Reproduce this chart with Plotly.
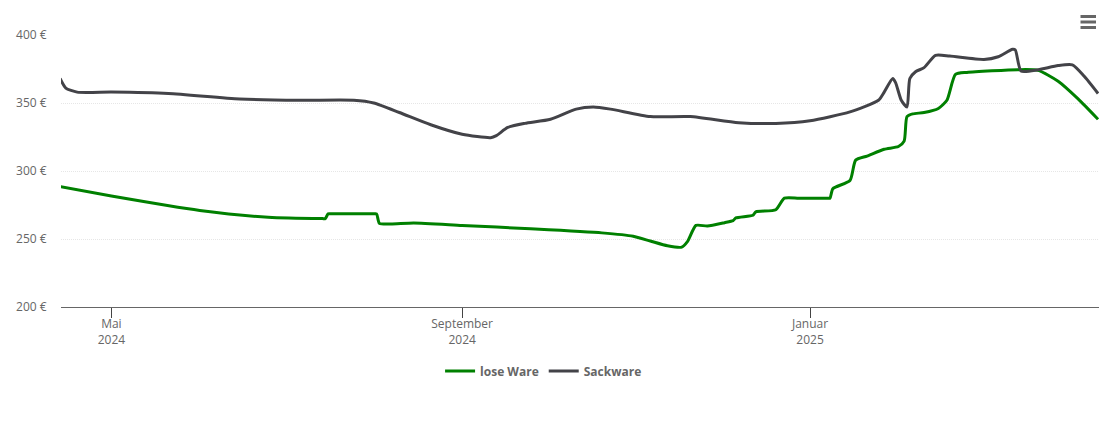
import plotly.graph_objects as go

# values
lose_dates = ["2024-04-13", "2024-05-01", "2024-06-01", "2024-06-25", "2024-07-14", "2024-07-15", "2024-07-16",
              "2024-07-17", "2024-07-24", "2024-08-01", "2024-08-02", "2024-08-03", "2024-08-07", "2024-08-15",
              "2024-09-01", "2024-09-25", "2024-10-20", "2024-10-31", "2024-11-06", "2024-11-12", "2024-11-17",
              "2024-11-19", "2024-11-22", "2024-11-26", "2024-12-02", "2024-12-05", "2024-12-06", "2024-12-12",
              "2024-12-13", "2024-12-20", "2024-12-23", "2024-12-28", "2025-01-03", "2025-01-07", "2025-01-08",
              "2025-01-09", "2025-01-15", "2025-01-17", "2025-01-21", "2025-01-27", "2025-02-01", "2025-02-03",
              "2025-02-04", "2025-02-06", "2025-02-10", "2025-02-15", "2025-02-18", "2025-02-21", "2025-02-25",
              "2025-03-15", "2025-03-22", "2025-03-29", "2025-04-05", "2025-04-12"]
lose_values = [288.5, 281.6, 271, 266, 265, 265, 268.5,
               268.5, 268.5, 268.5, 268.5, 261.5, 261, 261.8,
               260, 257.5, 254.5, 252, 248.5, 245, 244,
               248, 260, 259.5, 262, 263.5, 265.5, 267.5,
               270, 271.5, 280, 280, 280, 280, 280,
               287, 293, 308, 311, 316, 318, 322,
               340, 342, 343, 346, 352, 371, 372.5,
               374.5, 374, 366, 353, 338]

sack_dates = ["2024-04-13", "2024-04-15", "2024-04-19", "2024-05-01", "2024-05-21", "2024-06-15",
              "2024-07-06", "2024-07-25", "2024-08-01", "2024-08-10", "2024-08-21", "2024-09-01",
              "2024-09-11", "2024-09-13", "2024-09-17", "2024-09-23", "2024-10-02", "2024-10-11",
              "2024-10-17", "2024-10-23", "2024-11-06", "2024-11-20", "2024-12-07", "2024-12-20",
              "2025-01-01", "2025-01-15", "2025-01-25", "2025-01-27", "2025-01-30", "2025-01-31",
              "2025-02-02", "2025-02-04", "2025-02-05", "2025-02-07", "2025-02-10", "2025-02-14",
              "2025-02-19", "2025-03-03", "2025-03-08", "2025-03-13", "2025-03-14", "2025-03-16",
              "2025-03-22", "2025-03-29", "2025-04-03", "2025-04-07", "2025-04-12"]
sack_values = [368, 361, 358, 358, 357, 353,
               352, 352, 350, 343, 334, 327,
               324.5, 326, 332, 335, 338, 345.5,
               347, 345.5, 340, 340, 335.5, 335,
               337, 343.5, 352, 358, 368, 365,
               352, 347, 368, 373, 376, 385,
               384.5, 382, 384, 389.5, 389, 373.5,
               374.5, 377.5, 378, 370, 357]

x_ticks = ["2024-05-01", "2024-09-01", "2025-01-01"]
x_labels = ["Mai<br>2024", "September<br>2024", "Januar<br>2025"]
y_ticks = [200, 250, 300, 350, 400]
y_labels = ["200 €", "250 €", "300 €", "350 €", "400 €"]

GREEN = "#008000"
DARK = "#434348"
GRAY = "#666666"

fig = go.Figure()
fig.add_trace(go.Scatter(x=lose_dates, y=lose_values, name="lose Ware", mode="lines",
                         line=dict(color=GREEN, width=3, shape="spline", smoothing=0.6)))
fig.add_trace(go.Scatter(x=sack_dates, y=sack_values, name="Sackware", mode="lines",
                         line=dict(color=DARK, width=3, shape="spline", smoothing=0.6)))

# the page adds an 8px body margin, so the figure is 8px smaller each way
fig.update_layout(
    width=1102,
    height=414,
    margin=dict(l=53, r=11, t=27, b=115, autoexpand=False),
    paper_bgcolor="white",
    plot_bgcolor="white",
    font=dict(family="Open Sans", size=12, color=GRAY),
    legend=dict(orientation="h", xref="container", yref="container", x=0.486, y=0.123,
                xanchor="center", yanchor="middle", font=dict(size=12, weight="bold", color=GRAY),
                itemwidth=30),
)
fig.update_xaxes(range=["2024-04-13 08:00", "2025-04-12 08:00"], tickvals=x_ticks, ticktext=x_labels,
                 showgrid=False, showline=True, linecolor=GRAY, linewidth=1,
                 ticks="outside", ticklen=10, tickcolor="#444444", ticklabelstandoff=-4,
                 zeroline=False, automargin=False)
fig.update_yaxes(range=[200, 400], tickvals=y_ticks, ticktext=y_labels,
                 showgrid=True, gridcolor="#e6e6e6", griddash="1px,1px", gridwidth=1,
                 ticks="outside", ticklen=11, tickcolor="white", zeroline=False, showline=False,
                 automargin=False)

# export menu icon, top right
for py in (16.5, 22, 27.5):
    fig.add_shape(type="line", xref="paper", yref="paper",
                  x0=(1080.5 - 61) / 1038, x1=(1096 - 61) / 1038,
                  y0=(307 - py) / 272, y1=(307 - py) / 272,
                  line=dict(color=GRAY, width=3))

fig.write_html("out.html")
